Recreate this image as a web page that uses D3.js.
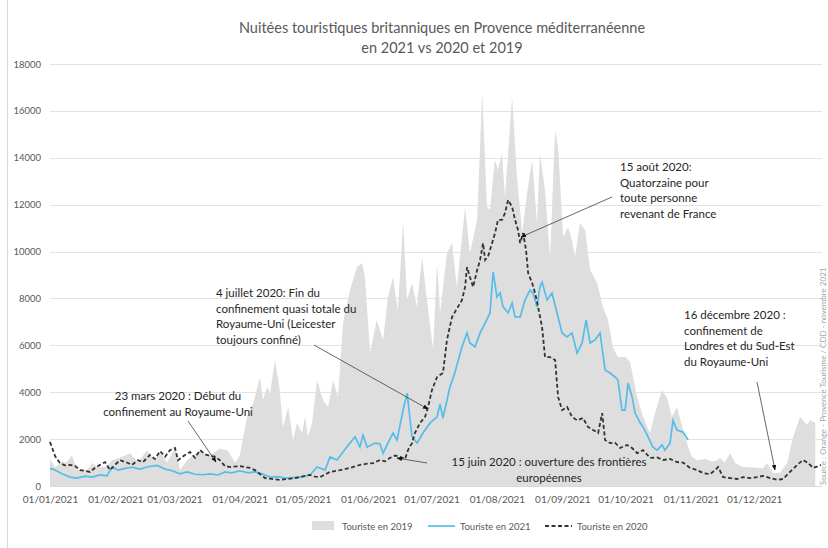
<!DOCTYPE html>
<html>
<head>
<meta charset="utf-8">
<script src="https://cdn.jsdelivr.net/npm/d3@7"></script>
<style>
  body { margin: 0; background: #fff; }
  svg { font-family: Lato, "Open Sans", sans-serif; }
</style>
</head>
<body>
<div id="chart"></div>
<script>
// day offsets from 01/01 and values
var days2019 = [0,2.4,5.7,8,10.4,12.8,17.6,20,22.3,27,29.4,33.2,38,41.7,46,49.8,52.2,55.5,59.3,61.7,65,67.8,71.2,74.5,77.3,80.6,84.4,87.8,90,93.5,96.3,99.6,101,103,104.4,106.7,109,110.5,113,115.3,117.2,119.5,121,122.4,124.3,126.7,129.5,131.9,134.3,136.6,139,142.3,145.6,148,149.4,151.8,155,158,160.3,162.7,165,167.5,169.4,171.7,174,176.5,178.8,181.7,183.6,185,188.3,190.7,193,196.9,199.2,202.6,205,207.3,208.7,211,212.5,214.4,215.8,219.2,221.5,224,226.3,228.7,231,232.4,234.8,237.2,239.6,241,243.4,245.7,247.6,249,251.4,253.8,256.2,259.5,262.3,264.7,267,269.4,272.8,275.1,278.5,281.3,284.6,287,290.3,292.7,295,297.4,300.3,302.7,304.6,306.9,310.7,314,316.4,317.8,320,322.6,325,328.3,332,335.9,338.2,340.1,343,346.3,349.6,352.5,355.8,359.1,360.5,363];
var tourists2019 = [1150,800,1020,1000,1320,680,680,980,810,810,1100,1200,1400,1000,1530,1100,1450,1000,1620,680,1100,1300,1500,1300,1400,1600,1500,1000,1300,2950,3500,4650,3670,4220,3960,5370,4100,2500,3370,1960,2690,2260,2950,2100,2690,4520,3670,3370,4520,3800,6950,8360,9340,9510,8910,5670,7080,6230,8060,8910,7500,11260,7930,8660,7640,9770,7930,5800,9510,7380,9940,10360,8490,11900,9940,11350,16760,11900,11770,13900,13480,14200,12330,16590,13180,10790,12500,13900,11220,14200,12620,9770,15180,14460,10620,11050,10490,9770,11220,10920,9210,8660,7640,7080,5930,5500,5500,5300,3800,2950,2260,3110,4100,3750,2950,3370,2390,1660,1240,1100,1150,1050,1100,1200,1000,1400,980,820,800,780,760,980,555,555,980,2100,2950,2600,2800,2700];

var days2021 = [0,2.4,5.7,9.5,12.8,16.6,20,23.7,27,29.4,32.3,35.6,38.9,42.7,46.5,50.8,54.6,57.9,61.7,65,68.8,72.6,75.9,79.7,83,86.3,90.1,93.9,97.2,100.6,104.4,108.2,111.5,115.3,118.6,123.3,126.7,130.5,132.8,136.1,139,142.3,144.7,147,148.5,150.4,154.2,156.5,158,160.3,162.7,164.6,167.5,169.4,171.7,174.1,176.9,180.3,183.6,185,186.4,189.7,192,195.4,197.8,199.2,201.6,204,206.4,208.7,210.2,212,213.5,214.9,217.3,219.2,220.6,223,225.3,227.7,229.1,231,232.4,233.4,235.8,238.1,240.5,242.9,245.3,247.6,250,252.4,254.3,256.2,258.5,260.9,263.3,265.7,268,269.4,271.3,272.8,274.2,276.1,277.5,280,281.3,283.7,286,288,290.3,291.7,294.1,295.5,297.4,300.3,302.7];
var tourists2021 = [750,680,520,380,340,420,380,470,430,800,680,750,800,720,820,880,720,650,520,600,500,480,520,470,600,560,650,560,600,520,380,400,340,360,380,470,810,680,1240,1110,1450,1830,2100,1660,2170,1660,1830,1800,1400,1830,2260,1960,3240,3960,2100,1830,2260,2690,2950,3500,2900,4220,4820,5930,6530,6100,5930,6530,6950,7380,9130,8060,8230,7640,7380,7800,7210,7210,7930,8360,8230,7640,8490,8700,7930,8230,7380,6530,6360,6530,5670,6100,7080,6100,6230,6530,4950,4820,4650,4520,3240,3240,4390,3800,3110,2690,2520,2100,1660,1530,1750,1530,1830,2800,2390,2300,1960];

var days2020 = [0,2.4,4.7,7.1,9.5,11.9,14.2,16.6,19,21.3,23.7,26.1,28.5,30.8,33.2,36.5,38.9,41.7,44.1,47.4,49.8,52.2,54.6,56.9,59.3,60.7,64,66.4,68.8,71.2,73.5,75.9,78.3,80.6,83,85.4,90.1,94.9,97.2,102,105.3,109.1,112.4,116.2,119.5,123.3,125.7,128.1,132.8,137.6,142.3,147.1,150.4,153.2,156.5,158.9,161.3,163.7,166,168.4,169.8,171.7,173.1,175.5,177.9,179.3,181.2,183.6,186.4,188.3,190.7,193.5,195.4,196.9,197.8,199.2,200.7,202.6,204,205.4,206.4,207.8,209.7,211.1,212.5,214.4,215.8,217.3,219.2,220.6,222,223,224.4,225.8,226.8,228.7,230.1,231.5,233.4,234.8,237.2,239.6,241,242.9,245.3,247.6,250,252.8,255.2,257.6,260,261.9,263.3,265.7,268,270.4,273.7,276.1,278.5,281.3,284.6,288,290.8,294.1,297.4,300.3,303.6,306.9,309.8,313.1,315.5,316.9,319.3,322.6,325.9,328.7,332.1,335.4,338.2,341.6,344.9,347.7,351,354.4,357.2,359.6,362,364.4,365.7];
var tourists2020 = [1880,1280,980,880,900,850,680,650,600,770,900,1020,680,900,1100,1000,900,1100,1020,1320,1150,1490,1250,1530,1620,1100,1320,1450,1200,1530,1350,1280,1250,1100,850,810,850,770,680,340,300,260,300,340,400,470,400,380,600,680,770,900,950,980,1110,1050,1200,1300,1240,1150,1530,1830,2260,2690,2950,3370,4100,4650,4820,6230,7210,7640,7930,8490,9340,8910,8490,9210,9640,10360,9640,9800,10360,10790,11350,11350,11640,12200,11900,11350,10920,10360,10790,10070,9080,8660,8230,7640,6780,5500,5500,5370,3800,3240,3370,2950,2800,2900,2520,2390,2260,3110,1960,1830,1850,1620,1750,1620,1400,1530,1200,1220,1110,1150,1020,1000,770,680,550,510,680,810,380,340,300,380,340,380,430,340,260,300,600,900,1110,980,770,850,900];

var yTicks = [0,2000,4000,6000,8000,10000,12000,14000,16000,18000];
var monthTicks = ["01/01/2021","01/02/2021","01/03/2021","01/04/2021","01/05/2021","01/06/2021",
                  "01/07/2021","01/08/2021","01/09/2021","01/10/2021","01/11/2021","01/12/2021"];
var seriesNames = ["Touriste en 2019","Touriste en 2021","Touriste en 2020"];

var width = 828, height = 548;
var parseDay = d3.timeParse("%d/%m/%Y");
var start = parseDay("01/01/2021");

var svg = d3.select("#chart").append("svg")
    .attr("width", width)
    .attr("height", height);

var x = d3.scaleTime()
    .domain([start, parseDay("01/01/2022")])
    .range([50, 819.5]);
var y = d3.scaleLinear().domain([0, 18000]).range([486, 64]);

function toDate(d) { return new Date(start.getTime() + d * 864e5); }
function pairs(days, vals) { return days.map(function(d, i) { return {date: toDate(d), value: vals[i]}; }); }

// frame
svg.append("line").attr("x1", 7.5).attr("x2", 7.5).attr("y1", 0).attr("y2", height)
    .attr("stroke", "#d9d9d9");

// title
var title = svg.append("text").attr("x", 442).attr("y", 33)
    .attr("text-anchor", "middle").attr("fill", "#595959").style("font-size", "14.5px");
title.append("tspan").attr("x", 442).text("Nuitées touristiques britanniques en Provence méditerranéenne");
title.append("tspan").attr("x", 442).attr("dy", 20).text("en 2021 vs 2020 et 2019");

// grid
svg.append("g").selectAll("line").data(yTicks).enter().append("line")
    .attr("x1", 50).attr("x2", 822)
    .attr("y1", function(d) { return Math.round(y(d)) + 0.5; })
    .attr("y2", function(d) { return Math.round(y(d)) + 0.5; })
    .attr("stroke", "#e3e3e3");

svg.append("g").selectAll("text").data(yTicks).enter().append("text")
    .attr("x", 41).attr("y", function(d) { return y(d) + 3.5; })
    .attr("text-anchor", "end").attr("fill", "#595959").style("font-size", "9.5px")
    .text(function(d) { return d; });

// series
var area = d3.area().x(function(d) { return x(d.date); }).y0(y(0)).y1(function(d) { return y(d.value); });
var line = d3.line().x(function(d) { return x(d.date); }).y(function(d) { return y(d.value); });

svg.append("path").datum(pairs(days2019, tourists2019))
    .attr("d", area).attr("fill", "#dedede");

svg.append("path").datum(pairs(days2021, tourists2021))
    .attr("d", line).attr("fill", "none").attr("stroke", "#55bde9").attr("stroke-width", 1.7);

svg.append("path").datum(pairs(days2020, tourists2020))
    .attr("d", line).attr("fill", "none").attr("stroke", "#333").attr("stroke-width", 1.8)
    .attr("stroke-dasharray", "4,2.5");

// x axis
var xAxis = svg.append("g").attr("transform", "translate(0," + y(0) + ")")
    .call(d3.axisBottom(x).tickValues(monthTicks.map(parseDay)).tickSize(0)
        .tickFormat(d3.timeFormat("%d/%m/%Y")));
xAxis.select(".domain").attr("stroke", "#d9d9d9").attr("d", "M50,0.5H822");
xAxis.selectAll("text").attr("fill", "#595959").attr("dy", 14)
    .style("font-size", "10px").style("font-family", "Lato, 'Open Sans', sans-serif");

// annotations
svg.append("defs").append("marker").attr("id", "arr")
    .attr("viewBox", "0 0 10 10").attr("refX", 9).attr("refY", 5)
    .attr("markerWidth", 7).attr("markerHeight", 7).attr("orient", "auto")
    .append("path").attr("d", "M0,1L10,5L0,9Z").attr("fill", "#111");

var notes = [
  {x: 178, y: 400, anchor: "middle", lines: ["23 mars 2020 : Début du", "confinement au Royaume-Uni"], from: [188, 421], to: [216, 462]},
  {x: 216, y: 297, anchor: "start", lines: ["4 juillet 2020: Fin du", "confinement quasi totale du", "Royaume-Uni (Leicester", "toujours confiné)"], from: [314, 345], to: [428, 409]},
  {x: 549, y: 466, anchor: "middle", lines: ["15 juin 2020 : ouverture des frontières", "européennes"], from: [427, 463], to: [397, 458]},
  {x: 620, y: 171, anchor: "start", lines: ["15 août 2020:", "Quatorzaine pour", "toute personne", "revenant de France"], from: [612, 197], to: [521, 237]},
  {x: 684, y: 319, anchor: "start", lines: ["16 décembre 2020 :", "confinement de", "Londres et du Sud-Est", "du Royaume-Uni"], from: [757, 382], to: [775, 470]}
];

notes.forEach(function(n) {
  svg.append("line").attr("x1", n.from[0]).attr("y1", n.from[1]).attr("x2", n.to[0]).attr("y2", n.to[1])
      .attr("stroke", "#404040").attr("stroke-width", 0.8).attr("marker-end", "url(#arr)");
  var t = svg.append("text").attr("text-anchor", n.anchor).attr("fill", "#262626").style("font-size", "11.5px");
  n.lines.forEach(function(l, i) {
    t.append("tspan").attr("x", n.x).attr("y", n.y + i * 15.7).text(l);
  });
});

// source (sits at the right edge)
svg.append("text").attr("transform", "translate(826,485) rotate(-90)")
    .attr("fill", "#a6a6a6").style("font-size", "8px")
    .text("Source : Orange - Provence Tourisme / CDD - novembre 2021");

// legend
var legend = svg.append("g").attr("transform", "translate(0,526)");
legend.append("rect").attr("x", 312).attr("y", -5).attr("width", 22).attr("height", 9).attr("fill", "#dedede");
legend.append("line").attr("x1", 428).attr("x2", 455).attr("y1", 0).attr("y2", 0)
    .attr("stroke", "#55bde9").attr("stroke-width", 1.7);
legend.append("line").attr("x1", 545).attr("x2", 572).attr("y1", 0).attr("y2", 0)
    .attr("stroke", "#333").attr("stroke-width", 1.8).attr("stroke-dasharray", "4,2.5");
legend.selectAll("text").data(seriesNames).enter().append("text")
    .attr("x", function(d, i) { return [342, 460, 577][i]; }).attr("y", 3.5)
    .attr("fill", "#595959").style("font-size", "9.5px")
    .text(function(d) { return d; });
</script>
</body>
</html>
